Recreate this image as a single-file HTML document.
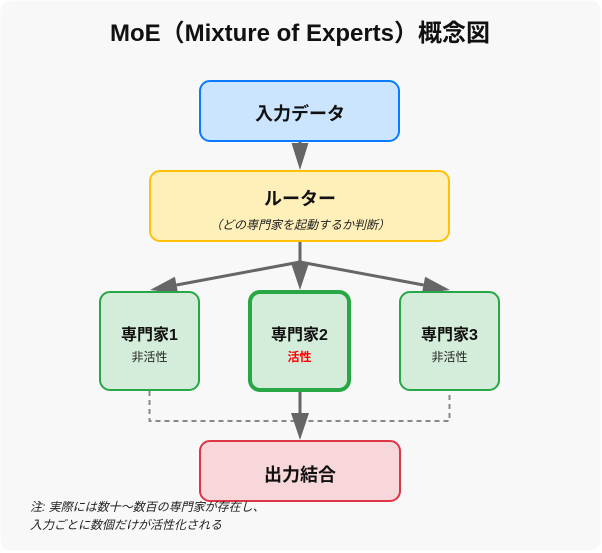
<!DOCTYPE html>
<html>
<head>
<meta charset="utf-8">
<style>
  html, body { margin:0; padding:0; background:#ffffff; }
  body { width:602px; height:553px; overflow:hidden; }
  svg { display:block; }
  text { font-family: "Liberation Sans", "Noto Sans CJK JP", sans-serif; }
</style>
</head>
<body>
<svg width="602" height="553" viewBox="0 0 602 553" xmlns="http://www.w3.org/2000/svg">
  <!-- background -->
  <rect x="0.5" y="0.5" width="600" height="550" rx="10" ry="10" fill="#f8f8f8"/>

  <!-- title -->
  <text x="300" y="41" text-anchor="middle" font-size="24" font-weight="bold" fill="#111">MoE（Mixture of Experts）概念図</text>

  <!-- arrow: input -> router -->
  <line x1="300" y1="141" x2="300" y2="145" stroke="#666" stroke-width="3"/>
  <polygon points="291.5,143 308.5,143 300,170" fill="#666"/>

  <!-- router -> junction -->
  <line x1="300" y1="241" x2="300" y2="264" stroke="#666" stroke-width="3"/>
  <!-- junction -> experts -->
  <line x1="300" y1="262" x2="176.5" y2="285" stroke="#666" stroke-width="3"/>
  <line x1="300" y1="262" x2="423.5" y2="285" stroke="#666" stroke-width="3"/>
  <polygon points="178.1,293.4 174.9,276.7 150,290" fill="#666"/>
  <polygon points="421.9,293.4 425.1,276.7 450,290" fill="#666"/>
  <polygon points="291,263 309,263 300,290" fill="#666"/>

  <!-- dashed connectors from inactive experts -->
  <path d="M149.5,391 V421 H449.5 V391" fill="none" stroke="#888" stroke-width="2" stroke-dasharray="5,4"/>

  <!-- arrow expert2 -> output -->
  <line x1="300" y1="392" x2="300" y2="415" stroke="#666" stroke-width="3"/>
  <polygon points="291,413 309,413 300,440" fill="#666"/>

  <!-- input box -->
  <rect x="200" y="81" width="199" height="60" rx="10" ry="10" fill="#cce5ff" stroke="#0a7bff" stroke-width="2"/>
  <text x="300" y="120" text-anchor="middle" font-size="18" font-weight="bold" fill="#111">入力データ</text>

  <!-- router box -->
  <rect x="150" y="171" width="299" height="70" rx="10" ry="10" fill="#ffefb8" stroke="#ffc107" stroke-width="2"/>
  <text x="300" y="205" text-anchor="middle" font-size="18" font-weight="bold" fill="#111">ルーター</text>
  <text x="300" y="229" text-anchor="middle" font-size="12" font-style="italic" fill="#222">（どの専門家を起動するか判断）</text>

  <!-- experts -->
  <rect x="100" y="292" width="99" height="98" rx="10" ry="10" fill="#d4edda" stroke="#28a745" stroke-width="2"/>
  <text x="149.5" y="340" text-anchor="middle" font-size="16" font-weight="bold" fill="#111">専門家1</text>
  <text x="149.5" y="361" text-anchor="middle" font-size="12" fill="#222">非活性</text>

  <rect x="250" y="292" width="99" height="98" rx="10" ry="10" fill="#d4edda" stroke="#28a745" stroke-width="4"/>
  <text x="299.5" y="340" text-anchor="middle" font-size="16" font-weight="bold" fill="#111">専門家2</text>
  <text x="299.5" y="361" text-anchor="middle" font-size="12" font-weight="bold" fill="#ff0000">活性</text>

  <rect x="400" y="292" width="99" height="98" rx="10" ry="10" fill="#d4edda" stroke="#28a745" stroke-width="2"/>
  <text x="449.5" y="340" text-anchor="middle" font-size="16" font-weight="bold" fill="#111">専門家3</text>
  <text x="449.5" y="361" text-anchor="middle" font-size="12" fill="#222">非活性</text>

  <!-- output box -->
  <rect x="200" y="441" width="200" height="60" rx="10" ry="10" fill="#f8d7da" stroke="#dc3545" stroke-width="2"/>
  <text x="300" y="481" text-anchor="middle" font-size="18" font-weight="bold" fill="#111">出力結合</text>

  <!-- note -->
  <text x="30" y="511" font-size="12" font-style="italic" fill="#222">注: 実際には数十〜数百の専門家が存在し、</text>
  <text x="30" y="529" font-size="12" font-style="italic" fill="#222">入力ごとに数個だけが活性化される</text>
</svg>
</body>
</html>
